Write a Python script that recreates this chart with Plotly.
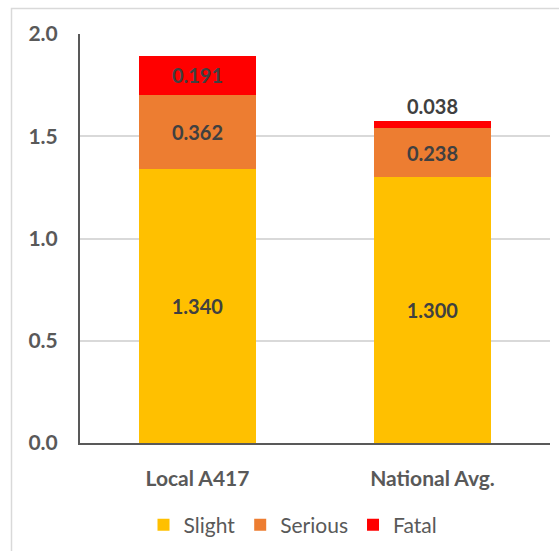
import plotly.graph_objects as go

categories = ["Local A417", "National Avg."]
slight = [1.340, 1.300]
serious = [0.362, 0.238]
fatal = [0.191, 0.038]
y_ticks = [0.0, 0.5, 1.0, 1.5, 2.0]

FONT = "Lato"
LABEL_COLOR = "#404040"
AXIS_TEXT = "#595959"

W, H = 559, 551
L, R, T, B = 80, 9, 34, 108
pw, ph = W - L - R, H - T - B


def px_x(x):
    return (x - L) / pw


def px_y(y):
    return (H - B - y) / ph


fig = go.Figure()

series = [
    ("Slight", slight, "#FFC000", ["inside", "inside"]),
    ("Serious", serious, "#ED7D31", ["inside", "inside"]),
    ("Fatal", fatal, "#FF0000", ["inside", "outside"]),
]
for name, vals, color, pos in series:
    fig.add_trace(go.Bar(
        name=name,
        x=categories,
        y=vals,
        marker=dict(color=color, line=dict(width=0)),
        text=[f"{v:.3f}" for v in vals],
        textposition=pos,
        insidetextanchor="middle",
        textfont=dict(family=FONT, size=20, color=LABEL_COLOR, weight="bold"),
        constraintext="none",
        cliponaxis=False,
        hoverinfo="skip",
    ))

fig.update_layout(
    width=W,
    height=H,
    margin=dict(l=L, r=R, t=T, b=B, autoexpand=False),
    barmode="stack",
    bargap=0.5,
    plot_bgcolor="white",
    paper_bgcolor="white",
    font=dict(family=FONT, color=AXIS_TEXT),
    showlegend=True,
    legend=dict(
        orientation="h",
        x=px_x(293),
        xanchor="center",
        y=px_y(525),
        yanchor="middle",
        font=dict(family=FONT, size=21, color=AXIS_TEXT),
        itemwidth=30,
        traceorder="normal",
        bgcolor="rgba(0,0,0,0)",
    ),
    xaxis=dict(
        showline=True,
        linecolor="#595959",
        linewidth=2,
        showgrid=False,
        ticks="",
        tickfont=dict(family=FONT, size=21, color=AXIS_TEXT, weight="bold"),
        ticklabelstandoff=16,
        automargin=False,
    ),
    yaxis=dict(
        range=[0, 2.0],
        tickvals=y_ticks,
        tickformat=".1f",
        showline=True,
        linecolor="#595959",
        linewidth=2,
        showgrid=True,
        gridcolor="#d9d9d9",
        gridwidth=1.5,
        zeroline=False,
        ticks="",
        tickfont=dict(family=FONT, size=21, color=AXIS_TEXT, weight="bold"),
        ticklabelstandoff=16,
        automargin=False,
    ),
    shapes=[
        dict(
            type="rect",
            xref="paper", yref="paper",
            x0=px_x(11.5), x1=px_x(575),
            y0=px_y(575), y1=px_y(8.5),
            line=dict(color="#d9d9d9", width=1.5),
            fillcolor="rgba(0,0,0,0)",
            layer="below",
        )
    ],
)

fig.write_html("out.html")
